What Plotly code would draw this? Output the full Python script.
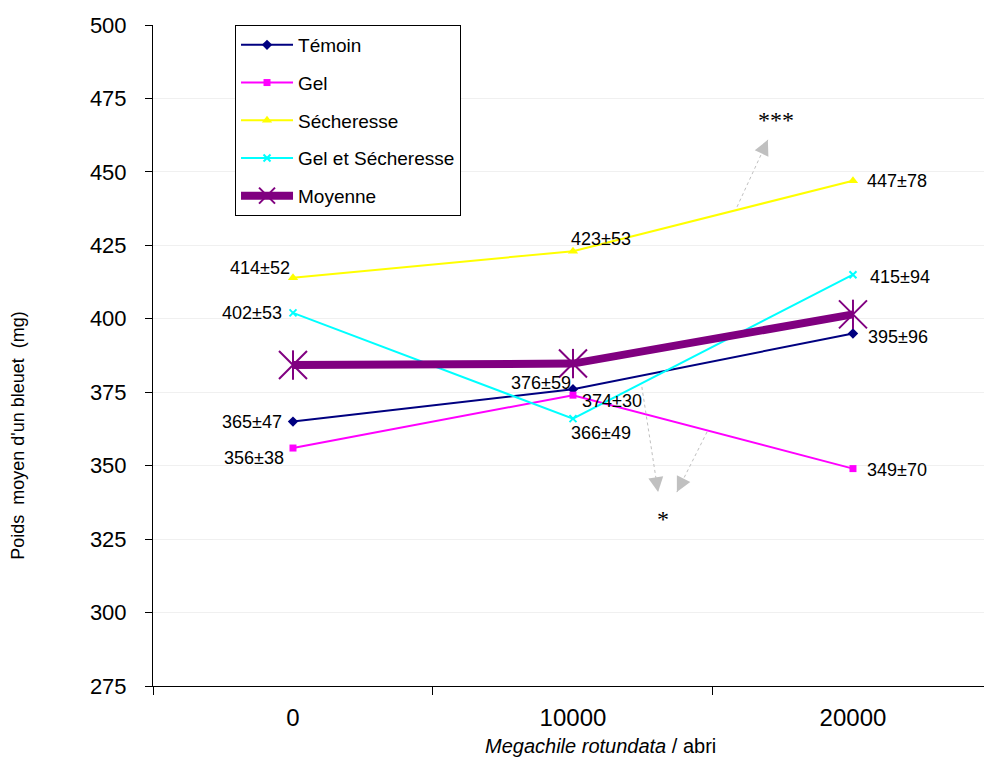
import math
import plotly.graph_objects as go

# Bee density per shelter (categories) and mean blueberry weight (mg) per treatment
categories = ["0", "10000", "20000"]
temoin = [365, 376, 395]
gel = [356, 374, 349]
secheresse = [414, 423, 447]
gel_secheresse = [402, 366, 415]
moyenne = [384.25, 384.75, 401.5]

temoin_sd = ["365±47", "376±59", "395±96"]
gel_sd = ["356±38", "374±30", "349±70"]
secheresse_sd = ["414±52", "423±53", "447±78"]
gel_secheresse_sd = ["402±53", "366±49", "415±94"]

y_ticks = [275, 300, 325, 350, 375, 400, 425, 450, 475, 500]

xpos = list(range(len(categories)))
FONT = "Liberation Sans, Arial, sans-serif"

fig = go.Figure()

series = [
    ("Témoin", temoin, "#000080", "diamond", 8),
    ("Gel", gel, "#FF00FF", "square", 7),
    ("Sécheresse", secheresse, "#FFFF00", "triangle-up", 9),
    ("Gel et Sécheresse", gel_secheresse, "#00FFFF", "x-thin-open", 7),
]
for name, vals, color, symbol, size in series:
    fig.add_trace(go.Scatter(
        x=xpos, y=vals, name=name, mode="lines+markers", legendgroup=name,
        line=dict(color=color, width=2),
        marker=dict(symbol=symbol, size=size, color=color,
                    line=dict(color=color, width=2 if "open" in symbol else 0)),
    ))

# Mean line: thick line with a six-armed star marker (x + vertical bar)
fig.add_trace(go.Scatter(
    x=xpos, y=moyenne, name="Moyenne", mode="lines+markers", legendgroup="Moyenne",
    line=dict(color="#800080", width=8),
    marker=dict(symbol="x-thin-open", size=28, color="#800080",
                line=dict(color="#800080", width=2)),
))
fig.add_trace(go.Scatter(
    x=xpos, y=moyenne, mode="markers", showlegend=False, legendgroup="Moyenne",
    hoverinfo="skip",
    marker=dict(symbol="line-ns-open", size=21, color="#800080",
                line=dict(color="#800080", width=2)),
))

# Value labels: (anchor, x shift px, y shift px) per point
label_sets = [
    (temoin, temoin_sd, [("right", -9, 0), ("right", 0, 6), ("left", 13, -4)]),
    (gel, gel_sd, [("right", -7, -10), ("left", 7, -6), ("left", 12, -1)]),
    (secheresse, secheresse_sd, [("right", -1, 10), ("left", -4, 12), ("left", 12, 0)]),
    (gel_secheresse, gel_secheresse_sd, [("right", -9, 0), ("left", -4, -14), ("left", 15, -2)]),
]
for vals, texts, offs in label_sets:
    for i, (v, t) in enumerate(zip(vals, texts)):
        anchor, dx, dy = offs[i]
        fig.add_annotation(x=xpos[i], y=v, text=t, showarrow=False,
                           xanchor=anchor, yanchor="middle", xshift=dx, yshift=dy,
                           font=dict(family=FONT, size=18, color="#000000"))

# Significance markers: dotted grey leader lines ending in a solid grey head
PX_X, PX_Y = 280.0, 661.0 / 225.0   # pixels per axis unit


def dotted_arrow(tail, head):
    (tx, ty), (hx, hy) = tail, head
    fig.add_shape(type="line", x0=tx, y0=ty, x1=hx, y1=hy, xref="x", yref="y",
                  line=dict(color="#c0c0c0", width=1, dash="dot"))
    length = math.hypot((hx - tx) * PX_X, (hy - ty) * PX_Y)
    f = 12.0 / length
    fig.add_annotation(x=hx, y=hy, ax=hx + (tx - hx) * f, ay=hy + (ty - hy) * f,
                       axref="x", ayref="y", text="", showarrow=True, arrowhead=2,
                       arrowsize=3, arrowwidth=1, arrowcolor="#c0c0c0", standoff=0)


dotted_arrow((1.586, 438.1), (1.696, 460.9))
dotted_arrow((1.246, 376.8), (1.304, 341.0))
dotted_arrow((1.479, 361.5), (1.371, 341.0))

STAR_FONT = dict(family="Liberation Serif, Times New Roman, serif", size=24, color="#000000")
fig.add_annotation(x=1.725, y=467.5, text="***", showarrow=False, font=STAR_FONT)
fig.add_annotation(x=1.321, y=332.0, text="*", showarrow=False, font=STAR_FONT)

# Axis titles
fig.add_annotation(xref="paper", yref="paper", x=0.538, y=-0.091, yanchor="middle",
                   text="<i>Megachile rotundata</i> / abri", showarrow=False,
                   font=dict(family=FONT, size=20, color="#000000"))
fig.add_annotation(xref="paper", yref="paper", x=-0.177, y=0.38, textangle=-90,
                   text="Poids  moyen d'un bleuet  (mg)", showarrow=False,
                   font=dict(family=FONT, size=18, color="#000000"))

fig.update_layout(
    width=984, height=759,
    margin=dict(l=153, r=0, t=25, b=73),
    paper_bgcolor="white", plot_bgcolor="white",
    font=dict(family=FONT, color="#000000"),
    showlegend=True,
    legend=dict(x=0.0987, y=1.0, xanchor="left", yanchor="top",
                bgcolor="white", bordercolor="#000000", borderwidth=1,
                font=dict(family=FONT, size=19, color="#000000"),
                traceorder="grouped", tracegroupgap=10, itemwidth=52,
                entrywidth=175, entrywidthmode="pixels"),
    xaxis=dict(
        range=[-0.5, 2.468], tickmode="array", tickvals=xpos, ticktext=categories,
        ticks="", showgrid=False, zeroline=False,
        showline=True, linecolor="#000000", linewidth=1,
        tickfont=dict(family=FONT, size=24, color="#000000"),
        ticklabelstandoff=10,
        minor=dict(tickvals=[-0.5, 0.5, 1.5], ticks="outside", ticklen=8,
                   tickcolor="#000000", tickwidth=1, showgrid=False),
    ),
    yaxis=dict(
        range=[275, 500], tickmode="array", tickvals=y_ticks,
        ticks="outside", ticklen=7, tickcolor="#000000",
        showgrid=True, gridcolor="#f0f0f0", gridwidth=1, zeroline=False,
        showline=True, linecolor="#000000", linewidth=1,
        tickfont=dict(family=FONT, size=22, color="#000000"),
        ticklabelstandoff=14,
    ),
)

fig.write_html("out.html")
